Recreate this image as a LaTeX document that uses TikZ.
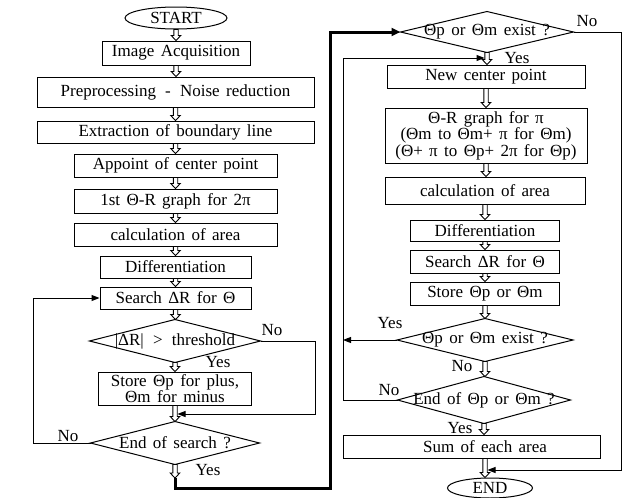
\documentclass[tikz,border=0pt]{standalone}
\usepackage{fontspec}
\setmainfont[WordSpace=1.5]{Liberation Serif}
\usetikzlibrary{shapes.geometric,arrows.meta,calc}
\newcommand\harr[2]{\draw[line width=0.9pt,fill=white] let \p1=#1, \p2=#2 in
  ({\x1-2.2pt},\y1) -- ({\x1-2.2pt},{\y2+5pt}) -- ({\x1-4.8pt},{\y2+5pt}) -- (\x1,\y2) --
  ({\x1+4.8pt},{\y2+5pt}) -- ({\x1+2.2pt},{\y2+5pt}) -- ({\x1+2.2pt},\y1) -- cycle;}
\begin{document}
\begin{tikzpicture}[x=1pt,y=-1pt,
  font=\fontsize{17}{15}\selectfont,
  line width=1pt,
  box/.style={draw,inner sep=0pt,align=center},
  dia/.style={inner sep=0pt,align=center},
  oval/.style={draw,ellipse,inner sep=0pt},
  lab/.style={inner sep=0pt},
  arr/.style={-{Triangle[length=8pt,width=6pt]}},
  thickarr/.style={line width=3pt,-{Triangle[length=9pt,width=8pt]}}]
\useasboundingbox (0,0) rectangle (625,498);
% ---------------- left column
\node[oval,minimum width=102pt,minimum height=22pt] (start) at (176,18) {START};
\node[box,minimum width=148pt,minimum height=24pt] (img) at (176,53) {Image Acquisition};
\node[box,minimum width=277pt,minimum height=30pt] (pre) at (175.5,92) {Preprocessing \,-\, Noise reduction};
\node[box,minimum width=277pt,minimum height=22pt] (ext) at (175.5,132) {Extraction of boundary line};
\node[box,minimum width=203pt,minimum height=23pt] (app) at (175.5,165.5) {Appoint of center point};
\node[box,minimum width=203pt,minimum height=24pt] (g1) at (175.5,201) {1st Θ-R graph for 2π};
\node[box,minimum width=203pt,minimum height=23pt] (cal) at (175.5,234.5) {calculation of area};
\node[box,minimum width=151pt,minimum height=22pt] (dif) at (175.5,267) {Differentiation};
\node[box,minimum width=151pt,minimum height=22pt] (sea) at (175.5,298) {Search ΔR for Θ};
\node[dia,minimum width=170pt,minimum height=42pt] (thr) at (175,341) {|ΔR| \,>\, threshold};
\node[box,minimum width=153pt,minimum height=33pt] (sto) at (175,388.5) {Store Θp for plus,\\Θm for minus};
\node[dia,minimum width=168pt,minimum height=42pt] (eos) at (175,443) {End of search ?};
\draw (thr.west)--(thr.north)--(thr.east)--(thr.south)--cycle;
\draw (eos.west)--(eos.north)--(eos.east)--(eos.south)--cycle;
% ---------------- right column
\node[dia,minimum width=172pt,minimum height=40pt] (d1) at (487,32) {Θp or Θm exist ?};
\node[box,minimum width=198pt,minimum height=23pt] (ncp) at (486,76.5) {New center point};
\node[box,minimum width=202pt,minimum height=55pt] (g2) at (486,135.5) {Θ-R graph for π\\(Θm to Θm+ π for Θm)\\(Θ+ π to Θp+ 2π for Θp)};
\node[box,minimum width=200pt,minimum height=27pt] (cal2) at (485,190.5) {calculation of area};
\node[box,minimum width=149pt,minimum height=21pt] (dif2) at (485,230.5) {Differentiation};
\node[box,minimum width=149pt,minimum height=23pt] (sea2) at (485,261.5) {Search ΔR for Θ};
\node[box,minimum width=149pt,minimum height=23pt] (sto2) at (485,293.5) {Store Θp or Θm};
\node[dia,minimum width=175pt,minimum height=42pt] (d2) at (485,340) {Θp or Θm exist ?};
\node[dia,minimum width=172pt,minimum height=46pt] (d3) at (484,400) {End of Θp or Θm ?};
\node[box,minimum width=257pt,minimum height=23pt] (sum) at (471.5,446.5) {\hspace*{27pt}Sum of each area};
\node[oval,minimum width=85pt,minimum height=20pt] (end) at (490,488) {END};
\draw (d1.west)--(d1.north)--(d1.east)--(d1.south)--cycle;
\draw (d2.west)--(d2.north)--(d2.east)--(d2.south)--cycle;
\draw (d3.west)--(d3.north)--(d3.east)--(d3.south)--cycle;
% ---------------- labels
\node[lab] (l1) at (272,330) {No};
\node[lab] (l2) at (218,362) {Yes};
\node[lab] (l3) at (68,436) {No};
\node[lab] (l4) at (208,470) {Yes};
\node[lab] (l5) at (587,21) {No};
\node[lab] (l6) at (517,58) {Yes};
\node[lab] (l7) at (390,323) {Yes};
\node[lab] (l8) at (462,366) {No};
\node[lab] (l9) at (389,390) {No};
\node[lab] (l10) at (460,428) {Yes};
% ---------------- helper coordinates
\coordinate (xL) at (33,0);
\coordinate (xR1) at (315,0);
\coordinate (xR2) at (621,0);
\coordinate (xM) at (343,0);
\coordinate (tb) at (175,478);
\coordinate (bc) at (330,488);
\coordinate (mg) at (177.5,414);
\coordinate (mt) at (484.5,58);
\coordinate (me) at (487.5,470);
% ---------------- hollow arrows
\harr{(start.south)}{(img.north)}
\harr{(img.south)}{(pre.north)}
\harr{(pre.south)}{(ext.north)}
\harr{(ext.south)}{(app.north)}
\harr{(app.south)}{(g1.north)}
\harr{(g1.south)}{(cal.north)}
\harr{(cal.south)}{(dif.north)}
\harr{(dif.south)}{(sea.north)}
\harr{(sea.south)}{(thr.north)}
\harr{(thr.south)}{(sto.north)}
\harr{(sto.south)}{(eos.north)}
\harr{(eos.south)}{(tb)}
\harr{(d1.south)}{(ncp.north)}
\harr{(ncp.south)}{(g2.north)}
\harr{(g2.south)}{(cal2.north)}
\harr{(cal2.south)}{(dif2.north)}
\harr{(dif2.south)}{(sea2.north)}
\harr{(sea2.south)}{(sto2.north)}
\harr{(sto2.south)}{(d2.north)}
\harr{(d2.south)}{(d3.north)}
\harr{(d3.south)}{(sum.north -| d3.south)}
\harr{($(sum.south)+(13.5,0)$)}{(end.north)}
% ---------------- connectors
\draw[arr] (eos.west) -- (eos.west -| xL) -- (xL |- sea.west) -- (sea.west);
\draw[arr] (thr.east) -- (thr.east -| xR1) -- (xR1 |- mg) -- (mg);
\draw[thickarr] (tb) |- (bc) |- (d1.west);
\draw[arr] (d1.east) -- (d1.east -| xR2) -- (xR2 |- me) -- (me);
\draw[arr] (d2.west) -- (d2.west -| xM);
\draw[arr] (d3.west) -- (d3.west -| xM) -- (xM |- mt) -- (mt);
\end{tikzpicture}
\end{document}
